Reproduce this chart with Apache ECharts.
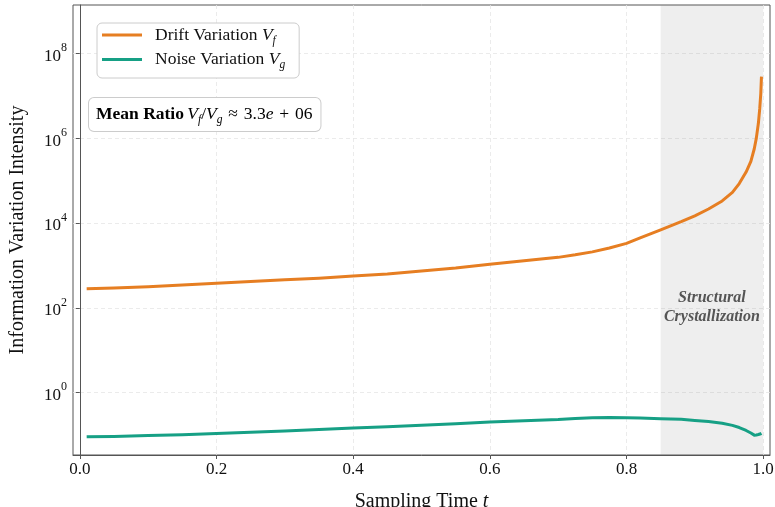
<!DOCTYPE html>
<html>
<head>
<meta charset="utf-8">
<script src="https://cdn.jsdelivr.net/npm/echarts@6/dist/echarts.min.js"></script>
<style>
html, body { margin: 0; padding: 0; background: #fff; }
#chart { width: 775px; height: 507px; }
</style>
</head>
<body>
<div id="chart"></div>
<script>
// sampling times (x) shared by both curves
var times = [0.01, 0.05, 0.1, 0.15, 0.2, 0.25, 0.3, 0.35, 0.4, 0.45, 0.5, 0.55, 0.6, 0.65,
    0.7, 0.725, 0.75, 0.775, 0.8, 0.82,
    0.85, 0.88, 0.9, 0.92, 0.94, 0.955, 0.965, 0.975, 0.982, 0.987, 0.99, 0.993, 0.995, 0.9965, 0.9975];
// drift variation V_f
var driftValues = [282, 295, 316, 347, 380, 417, 457, 501, 562, 631, 741, 871, 1072, 1288,
    1549, 1778, 2089, 2570, 3311, 4467,
    6918, 10715, 14791, 21380, 33113, 52481, 85114, 158489, 281838, 562341, 1.0e6, 2.24e6, 5.01e6, 1.12e7, 2.82e7];
// noise variation V_g
var noiseValues = [0.0912, 0.0933, 0.0977, 0.102, 0.110, 0.117, 0.126, 0.136, 0.148, 0.158, 0.172, 0.186, 0.204, 0.219,
    0.234, 0.247, 0.257, 0.261, 0.258, 0.254,
    0.245, 0.237, 0.221, 0.209, 0.191, 0.170, 0.151, 0.129, 0.112, 0.100, 0.101, 0.1035, 0.106, 0.1076, 0.110];

var xTicks = [0, 0.2, 0.4, 0.6, 0.8, 1.0];
var yTicks = [1, 1e2, 1e4, 1e6, 1e8];
var zoneStart = 0.85, zoneEnd = 1.0;
var ratioText = '3.3';
var ratioExp = '06';

var serif = 'Liberation Serif';
var orange = '#e67e22', teal = '#16a085';

var myChart = echarts.init(document.getElementById('chart'));

function pairs(ys) {
    return times.map(function(t, i) { return [t, ys[i]]; });
}

// main text is centred on the line, subscripts sit at its bottom
var richText = {
    n: { fontFamily: serif, fontSize: 17.5, color: '#111', lineHeight: 23 },
    b: { fontFamily: serif, fontSize: 17.5, color: '#111', fontWeight: 'bold', lineHeight: 23 },
    i: { fontFamily: serif, fontSize: 17.5, color: '#111', fontStyle: 'italic', lineHeight: 23 },
    s: { fontFamily: serif, fontSize: 11.5, color: '#111', fontStyle: 'italic', lineHeight: 23, verticalAlign: 'bottom' }
};

var option = {
    animation: false,
    backgroundColor: '#fff',
    grid: {
        left: 73, right: 5, top: 5, bottom: 52,
        outerBoundsMode: 'none',
        show: true, borderColor: '#555', borderWidth: 1
    },
    legend: {
        orient: 'vertical',
        left: 97, top: 23,
        icon: 'rect',
        itemWidth: 40, itemHeight: 3,
        itemGap: 4,
        padding: [3, 14, 7, 5],
        backgroundColor: '#fff',
        borderColor: '#ccc', borderWidth: 1, borderRadius: 5,
        textStyle: { fontFamily: serif, fontSize: 17.5, color: '#111', padding: [0, 0, 0, 8], rich: richText },
        formatter: function(name) {
            if (name == 'drift') return '{n|Drift Variation }{i|V}{s|f}';
            return '{n|Noise Variation }{i|V}{s|g}';
        },
        data: ['drift', 'noise']
    },
    xAxis: {
        type: 'value',
        min: -0.01, max: 1.01,
        name: '{n|Sampling Time }{i|t}',
        nameLocation: 'middle',
        nameGap: 37,
        nameTextStyle: {
            rich: {
                n: { fontFamily: serif, fontSize: 20, color: '#111' },
                i: { fontFamily: serif, fontSize: 20, color: '#111', fontStyle: 'italic' }
            }
        },
        axisLine: { lineStyle: { color: '#555' } },
        axisTick: { customValues: xTicks, length: 4, lineStyle: { color: '#555' } },
        axisLabel: {
            customValues: xTicks, margin: 6,
            fontFamily: serif, fontSize: 17, color: '#111',
            formatter: function(v) { return v.toFixed(1); }
        },
        splitLine: { show: true, lineStyle: { color: '#e6e6e6', type: [4, 3], width: 0.8 } }
    },
    yAxis: {
        type: 'log',
        logBase: 10,
        min: Math.pow(10, -1.468), max: Math.pow(10, 9.138),
        name: 'Information Variation Intensity',
        nameLocation: 'middle',
        nameGap: 45,
        nameTextStyle: { fontFamily: serif, fontSize: 20, color: '#111' },
        axisLine: { show: true, lineStyle: { color: '#555' } },
        axisTick: { show: true, customValues: yTicks, length: 4, lineStyle: { color: '#555' } },
        axisLabel: {
            customValues: yTicks, margin: 6,
            formatter: function(v) {
                return '{b|10}{e|' + Math.round(Math.log10(v)) + '}';
            },
            rich: {
                b: { fontFamily: serif, fontSize: 17, color: '#111', lineHeight: 23, verticalAlign: 'bottom' },
                e: { fontFamily: serif, fontSize: 12, color: '#111', lineHeight: 23, verticalAlign: 'top' }
            }
        },
        splitLine: { show: true, lineStyle: { color: '#e6e6e6', type: [4, 3], width: 0.8 } },
        minorTick: { show: false }
    },
    series: [{
        name: 'drift',
        type: 'line',
        data: pairs(driftValues),
        symbol: 'none',
        smooth: false,
        color: orange,
        lineStyle: { color: orange, width: 3, join: 'round' },
        z: 3,
        markArea: {
            silent: true,
            itemStyle: { color: 'rgba(128,128,128,0.134)' },
            data: [[{ xAxis: zoneStart }, { xAxis: zoneEnd }]]
        },
        markPoint: {
            silent: true,
            symbol: 'rect',
            symbolSize: 0,
            label: {
                show: true,
                position: 'inside',
                formatter: 'Structural\nCrystallization',
                fontFamily: serif, fontSize: 16, fontWeight: 'bold', fontStyle: 'italic',
                color: '#555', lineHeight: 19, align: 'center'
            },
            data: [{ coord: [0.925, 100], value: 0 }]
        }
    }, {
        name: 'noise',
        type: 'line',
        data: pairs(noiseValues),
        symbol: 'none',
        smooth: false,
        color: teal,
        lineStyle: { color: teal, width: 3, join: 'round' },
        z: 3
    }],
    graphic: [{
        type: 'text',
        left: 88, top: 97,
        z: 10,
        style: {
            text: '{b|Mean Ratio} {i|V}{s|f}{n|/}{i|V}{s|g}{n|\u200a \u2248 \u200a' + ratioText + '}{i|e}{n|\u200a + \u200a' + ratioExp + '}',
            rich: richText,
            backgroundColor: '#fff',
            borderColor: '#ccc', borderWidth: 1, borderRadius: 5,
            padding: [5, 8, 5, 7]
        }
    }]
};

myChart.setOption(option);
</script>
</body>
</html>
